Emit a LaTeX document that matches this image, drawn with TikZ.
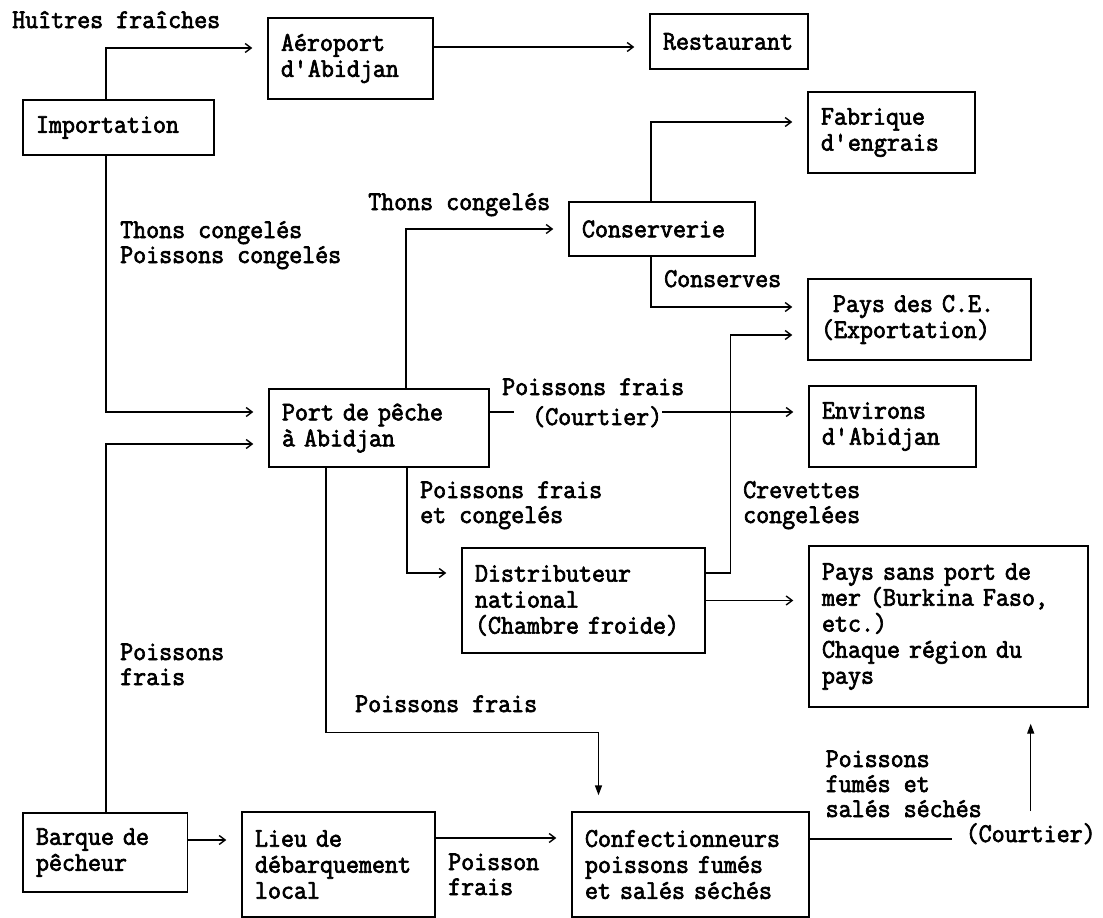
\documentclass[tikz,border=0pt]{standalone}
\usepackage{fontspec}
\setmonofont{Latin Modern Mono}[FakeStretch=0.935,FakeBold=2.5]
\usetikzlibrary{arrows.meta}
\newcommand\ml[1]{\begin{tabular}[t]{@{}l@{}}#1\end{tabular}}
\newcommand\q{\textquotesingle}
\tikzset{
  box/.style={draw, line width=1.4pt, inner xsep=13pt, inner ysep=0pt, align=left,
              font=\ttfamily\fontsize{27}{26}\selectfont},
  lab/.style={anchor=base west, inner sep=0pt, font=\ttfamily\fontsize{27}{25}\selectfont},
  conn/.style={line width=1.4pt},
  arr/.style={conn, -{Straight Barb[length=6pt,width=9pt]}, shorten >=15pt},
  varr/.style={conn, -{Triangle[length=10pt,width=7pt]}, shorten >=16pt},
}
\begin{document}
\begin{tikzpicture}[x=1pt,y=-1pt]
\fill[white] (0,0) rectangle (1103,918);
\useasboundingbox (0,0) rectangle (1103,918);

% boxes
\node[box, text width=165pt, minimum height=55pt] (imp)  at (118.5,127.5) {Importation};
\node[box, text width=139pt, minimum height=81pt] (aer)  at (350.5,58.5) {Aéroport\\d\q Abidjan};
\node[box, text width=132pt, minimum height=55pt] (rest) at (729,41.5) {Restaurant};
\node[box, text width=141pt, minimum height=81pt] (fab)  at (891.5,132.5) {Fabrique\\d\q engrais};
\node[box, text width=160pt, minimum height=54pt] (cons) at (662,229) {Conserverie};
\node[box, text width=197pt, minimum height=81pt] (ce)   at (919.5,319.5) {\hspace*{12pt}Pays des C.E.\\(Exportation)};
\node[box, text width=194pt, minimum height=78pt] (port) at (379,428) {Port de pêche\\à Abidjan};
\node[box, text width=141pt, minimum height=81pt] (env)  at (892.5,426.5) {Environs\\d\q Abidjan};
\node[box, text width=217pt, minimum height=105pt] (dist) at (583.5,600.5) {Distributeur\\national\\(Chambre froide)};
\node[box, text width=253pt, minimum height=161pt] (psp) at (948.5,626.5) {Pays sans port de\\mer (Burkina Faso,\\etc.)\\Chaque région du\\pays};
\node[box, text width=138.5pt, minimum height=79pt] (barq) at (105.25,852.5) {Barque de\\pêcheur};
\node[box, text width=167pt, minimum height=105pt] (lieu) at (338.5,864.5) {Lieu de\\débarquement\\local};
\node[box, text width=211pt, minimum height=105pt] (conf) at (690.5,864.5) {Confectionneurs\\poissons fumés\\et salés séchés};

% labels
\node[lab] (lhui)  at (12,28) {\ml{Huîtres fraîches}};
\node[lab] (lthp)  at (120,238) {\ml{Thons congelés\\Poissons congelés}};
\node[lab] (lthc)  at (368,210) {\ml{Thons congelés}};
\node[lab] (lcons) at (664,287) {\ml{Conserves}};
\node[lab] (lpf1)  at (502,395) {\ml{Poissons frais}};
\node[lab] (courA) at (532,425) {(Courtier)};
\node[lab] (lpfc)  at (420,498) {\ml{Poissons frais\\et congelés}};
\node[lab] (lcrev) at (743,498) {\ml{Crevettes\\congelées}};
\node[lab] (lpf2)  at (120,660) {\ml{Poissons\\frais}};
\node[lab] (lpf3)  at (355,712) {\ml{Poissons frais}};
\node[lab] (lpf4)  at (448,870) {\ml{Poisson\\frais}};
\node[lab] (lfum)  at (825.5,767) {\ml{Poissons\\fumés et\\salés séchés}};
\node[lab] (courB) at (965.5,842) {(Courtier)};

% connectors
\coordinate (L) at (106,0);
\draw[arr] (imp.north -| L) |- ([yshift=10.5pt]aer.west);
\draw[arr] ([yshift=11.5pt]aer.east) -- ([yshift=11.5pt]aer.east -| rest.west);
\draw[arr] (imp.south -| L) |- ([yshift=16pt]port.west);
\draw[arr] (barq.north -| L) |- ([yshift=-16pt]port.west);
\draw[arr] ([xshift=27pt]port.north) |- (cons.west);
\draw[arr] ([xshift=-11pt]cons.north) |- ([yshift=10.5pt]fab.west);
\draw[arr] ([xshift=-11pt]cons.south) |- ([yshift=12.5pt]ce.west);
\draw[arr] ([yshift=27.5pt]dist.east) -- ++(25,0) |- ([yshift=-15.5pt]ce.west);
\draw[conn] ([yshift=16pt]port.east) -- ++(24,0);
\draw[arr] ([yshift=16pt]port.east -| courA.east) -- ([yshift=16pt]port.east -| env.west);
\draw[arr] ([xshift=28pt]port.south) |- ([yshift=27.5pt]dist.west);
\draw[arr] (dist.east) -- (dist.east -| psp.west);
\draw[varr] ([xshift=-53pt]port.south) -- ++(0,265) -| ([xshift=-92pt]conf.north);
\draw[arr] ([yshift=12.5pt]barq.east) -- ([yshift=12.5pt]barq.east -| lieu.west);
\draw[arr] ([yshift=26.5pt]lieu.east) -- ([yshift=26.5pt]lieu.east -| conf.west);
\draw[conn] ([yshift=25.5pt]conf.east) -- ++(142,0);
\draw[varr] ([yshift=12pt]courB.north) -- (courB.north |- psp.south);
\end{tikzpicture}
\end{document}
